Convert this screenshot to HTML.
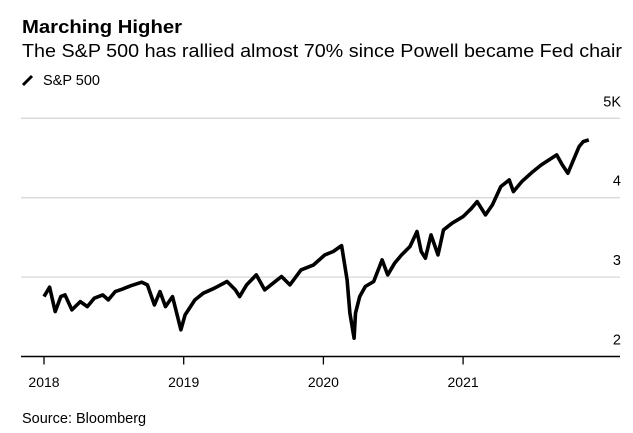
<!DOCTYPE html>
<html><head><meta charset="utf-8"><style>
body{margin:0;background:#fff;width:633px;height:433px;overflow:hidden;font-family:"Liberation Sans",Arial,sans-serif}
svg{display:block}
</style></head><body>
<svg width="633" height="433">
<text x="22" y="33" font-size="18" font-weight="bold" fill="#000" textLength="160" lengthAdjust="spacingAndGlyphs">Marching Higher</text>
<text x="22" y="57" font-size="18.5" fill="#000" textLength="600" lengthAdjust="spacingAndGlyphs">The S&amp;P 500 has rallied almost 70% since Powell became Fed chair</text>
<g><line x1="23" y1="85" x2="32" y2="76" stroke="#000" stroke-width="3"/><text x="43" y="85" font-size="14.5" fill="#000">S&amp;P 500</text></g>
<g id="grid"></g>
<g id="yt"></g>
<g id="xt"></g>
<path id="line" fill="none" stroke="#000" stroke-width="3.6" stroke-linejoin="round"/>
<text x="22" y="423" font-size="14.5" fill="#000">Source: Bloomberg</text>
</svg>
<script>
const dates=[2018.00,2018.04,2018.08,2018.12,2018.15,2018.20,2018.26,2018.31,2018.36,2018.42,2018.46,2018.51,2018.56,2018.62,2018.70,2018.74,2018.79,2018.83,2018.87,2018.92,2018.98,2019.01,2019.08,2019.14,2019.22,2019.31,2019.37,2019.40,2019.45,2019.52,2019.58,2019.64,2019.70,2019.76,2019.84,2019.93,2020.01,2020.07,2020.13,2020.17,2020.19,2020.22,2020.23,2020.26,2020.30,2020.36,2020.42,2020.46,2020.51,2020.56,2020.62,2020.67,2020.70,2020.73,2020.77,2020.82,2020.86,2020.92,2021.00,2021.06,2021.10,2021.16,2021.21,2021.27,2021.33,2021.36,2021.42,2021.50,2021.56,2021.67,2021.71,2021.75,2021.78,2021.83,2021.86,2021.90];
const values=[2755,2873,2566,2755,2776,2587,2692,2629,2734,2776,2713,2818,2848,2890,2936,2902,2650,2818,2629,2755,2336,2524,2713,2797,2860,2944,2839,2755,2902,3028,2839,2923,3007,2902,3091,3154,3280,3322,3397,2965,2545,2231,2545,2755,2881,2944,3217,3028,3175,3280,3385,3574,3322,3238,3532,3280,3594,3678,3762,3867,3951,3783,3909,4140,4224,4077,4203,4329,4413,4539,4413,4308,4434,4643,4706,4728];
const yTicks=[2000,3000,4000,5000];
const yTickLabels=["2","3","4","5K"];
const xTicks=[2018,2019,2020,2021];
const xTickLabels=["2018","2019","2020","2021"];
const NS="http://www.w3.org/2000/svg";
const x=t=>44+(t-2018)*139.7;
const y=v=>356.5-(v-2000)*0.0794;
function mk(tag,attrs,parent,text){const e=document.createElementNS(NS,tag);for(const k in attrs)e.setAttribute(k,attrs[k]);if(text!==undefined)e.textContent=text;document.getElementById(parent).appendChild(e);return e;}
yTicks.forEach((v,i)=>{
  const gl=mk('line',{x1:21,x2:620,y1:y(v),y2:y(v),stroke:i===0?'#000':'#d8d8d8','stroke-width':i===0?1.5:1.3},'grid');
  
  
  const t=mk('text',{x:621,y:y(v)-12,'font-size':14.5,'text-anchor':'end',fill:'#000'},'yt',yTickLabels[i]);
  
  
});
xTicks.forEach((v,i)=>{
  const tk=mk('line',{x1:x(v),x2:x(v),y1:y(2000),y2:y(2000)+8,stroke:'#000','stroke-width':1.3},'xt');
  
  
  const t=mk('text',{x:x(v),y:387,'font-size':14,'text-anchor':'middle',fill:'#000'},'xt',xTickLabels[i]);
  
  
});
document.getElementById('line').setAttribute('d',dates.map((d,i)=>(i?'L':'M')+x(d).toFixed(1)+','+y(values[i]).toFixed(1)).join(''));
</script>
</body></html>
